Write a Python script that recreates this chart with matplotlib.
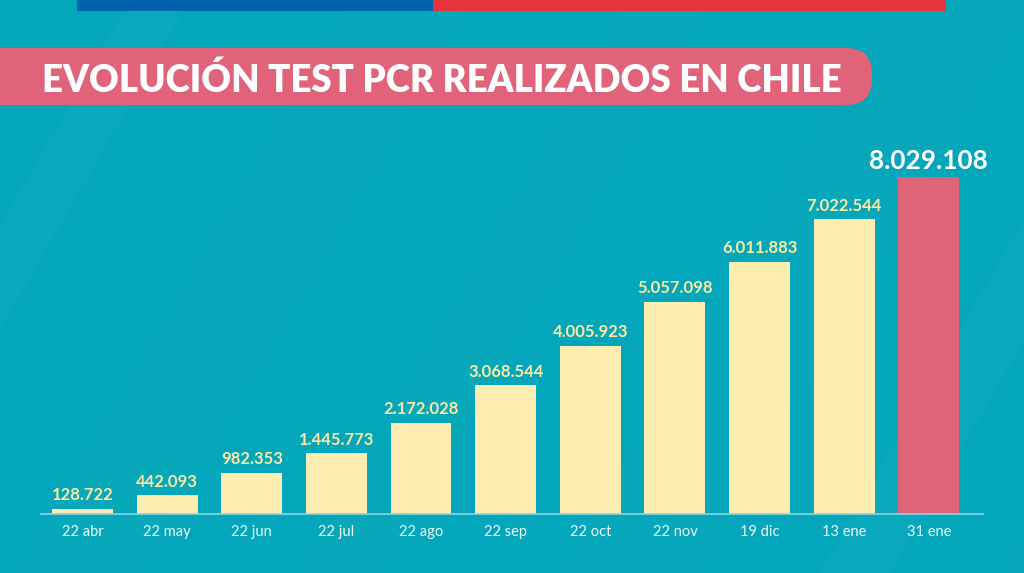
import matplotlib
matplotlib.use("Agg")
import matplotlib.pyplot as plt
from matplotlib.patches import FancyBboxPatch, Rectangle, Polygon

categories = ["22 abr", "22 may", "22 jun", "22 jul", "22 ago", "22 sep",
              "22 oct", "22 nov", "19 dic", "13 ene", "31 ene"]
values = [128722, 442093, 982353, 1445773, 2172028, 3068544,
          4005923, 5057098, 6011883, 7022544, 8029108]
labels = ["128.722", "442.093", "982.353", "1.445.773", "2.172.028", "3.068.544",
          "4.005.923", "5.057.098", "6.011.883", "7.022.544", "8.029.108"]
title = "EVOLUCIÓN TEST PCR REALIZADOS EN CHILE"

BG = "#03a6ba"
YEL = "#fdedb0"
PINK = "#e0637a"
W, H = 1024, 573

fig = plt.figure(figsize=(W / 100, H / 100), dpi=100)
fig.patch.set_facecolor(BG)

# decoration layer in pixel coordinates
deco = fig.add_axes([0, 0, 1, 1])
deco.set_xlim(0, W)
deco.set_ylim(H, 0)
deco.axis("off")
deco.set_facecolor(BG)

# subtle diagonal stripes
for x0, w, a in [(-200, 60, 0.03), (20, 120, 0.025), (300, 80, 0.025), (560, 140, 0.02),
                 (820, 70, 0.03), (1000, 160, 0.025)]:
    deco.add_patch(Polygon([(x0, H), (x0 + w, H), (x0 + w + 330, 0), (x0 + 330, 0)],
                           closed=True, facecolor="white", alpha=a, lw=0))

# top flag stripe
deco.add_patch(Rectangle((77, 0), 356, 10.5, facecolor="#0061ae", lw=0))
deco.add_patch(Rectangle((433, 0), 513, 10.5, facecolor="#e5343b", lw=0))

# title banner
deco.add_patch(FancyBboxPatch((-40, 48), 912, 57, boxstyle="round,pad=0,rounding_size=26",
                              facecolor=PINK, lw=0))
deco.text(42, 77.5, title, color="white", fontsize=26.4, fontweight="heavy",
          family=["Lato", "DejaVu Sans"], ha="left", va="center_baseline")

# chart axes
left_px, right_px = 41, 983
bottom_px, top_px = 514, 100
ax = fig.add_axes([left_px / W, 1 - bottom_px / H, (right_px - left_px) / W,
                   (bottom_px - top_px) / H])
ax.patch.set_alpha(0)
x = list(range(len(categories)))
colors = [YEL] * (len(values) - 1) + [PINK]
ax.bar(x, values, width=0.72, color=colors, zorder=2)
ax.set_xlim(-0.49, 10.64)
ax.set_ylim(0, values[-1] * (bottom_px - top_px) / (bottom_px - 177))
for s in ["top", "right", "left"]:
    ax.spines[s].set_visible(False)
ax.spines["bottom"].set_color("#8fd3dc")
ax.spines["bottom"].set_linewidth(1.2)
ax.set_yticks([])
ax.set_xticks(x)
ax.set_xticklabels(categories, color="#eef8fa", fontsize=10.5, family=["Lato", "DejaVu Sans"])
ax.tick_params(axis="x", length=0, pad=8)

for i, (v, lab) in enumerate(zip(values, labels)):
    if i == len(values) - 1:
        ax.annotate(lab, (i, v), xytext=(0, 3), textcoords="offset points", ha="center",
                    va="bottom", color="white", fontsize=18.8, fontweight="bold",
                    family=["Lato", "DejaVu Sans"])
    else:
        ax.annotate(lab, (i, v), xytext=(0, 4), textcoords="offset points", ha="center",
                    va="bottom", color="#fbeaa3", fontsize=12, fontweight="bold",
                    family=["Lato", "DejaVu Sans"])

fig.savefig("out.png", dpi=100, facecolor=BG)
